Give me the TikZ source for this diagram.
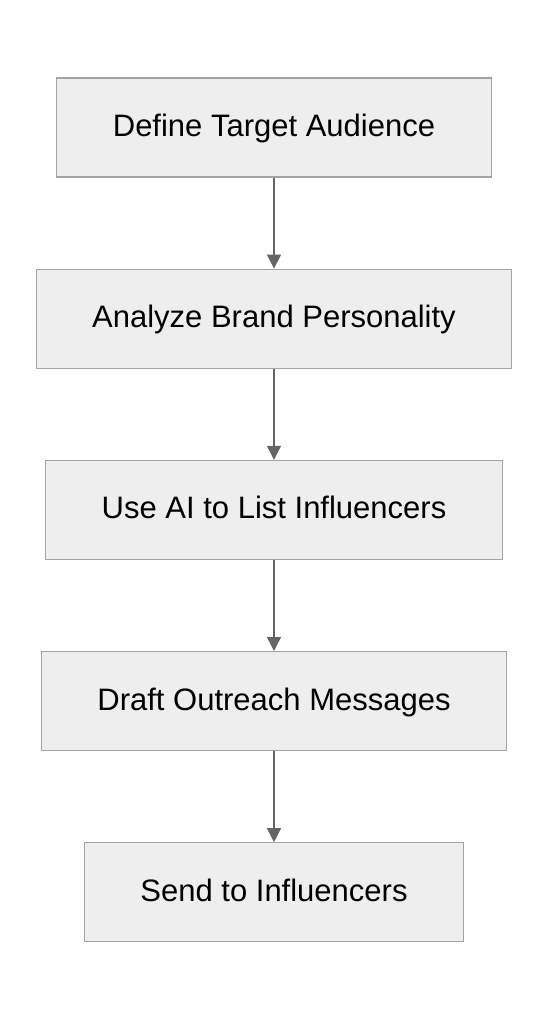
\documentclass[tikz,border=0pt]{standalone}
\usepackage{fontspec}
\setmainfont{Liberation Sans}
\usetikzlibrary{positioning,arrows.meta}

\definecolor{boxfill}{HTML}{EEEEEE}
\definecolor{boxline}{HTML}{A3A3A3}
\definecolor{arrowline}{HTML}{666666}

\tikzset{
    stepbox/.style = {draw=boxline, fill=boxfill, line width=1.2pt, minimum height=99pt,
        inner xsep=56pt, text height=23pt, text depth=5pt, font=\fontsize{31}{36}\selectfont},
    flow/.style = {draw=arrowline, line width=1.3pt, -{Triangle[length=14pt, width=14pt]}}
}

\begin{document}
\begin{tikzpicture}[x=1pt, y=1pt, node distance=91pt]

        \useasboundingbox (0, 0) rectangle (548, -1020);

        \node[stepbox] (audience) at (274, -127.5) {Define Target Audience};
        \node[stepbox, below=of audience] (brand) {Analyze Brand Personality};
        \node[stepbox, below=of brand] (listing) {Use AI to List Influencers};
        \node[stepbox, below=of listing] (draft) {Draft Outreach Messages};
        \node[stepbox, below=of draft] (send) {Send to Influencers};

        \draw[flow] (audience) -- (brand);
        \draw[flow] (brand) -- (listing);
        \draw[flow] (listing) -- (draft);
        \draw[flow] (draft) -- (send);

    \end{tikzpicture}
\end{document}
